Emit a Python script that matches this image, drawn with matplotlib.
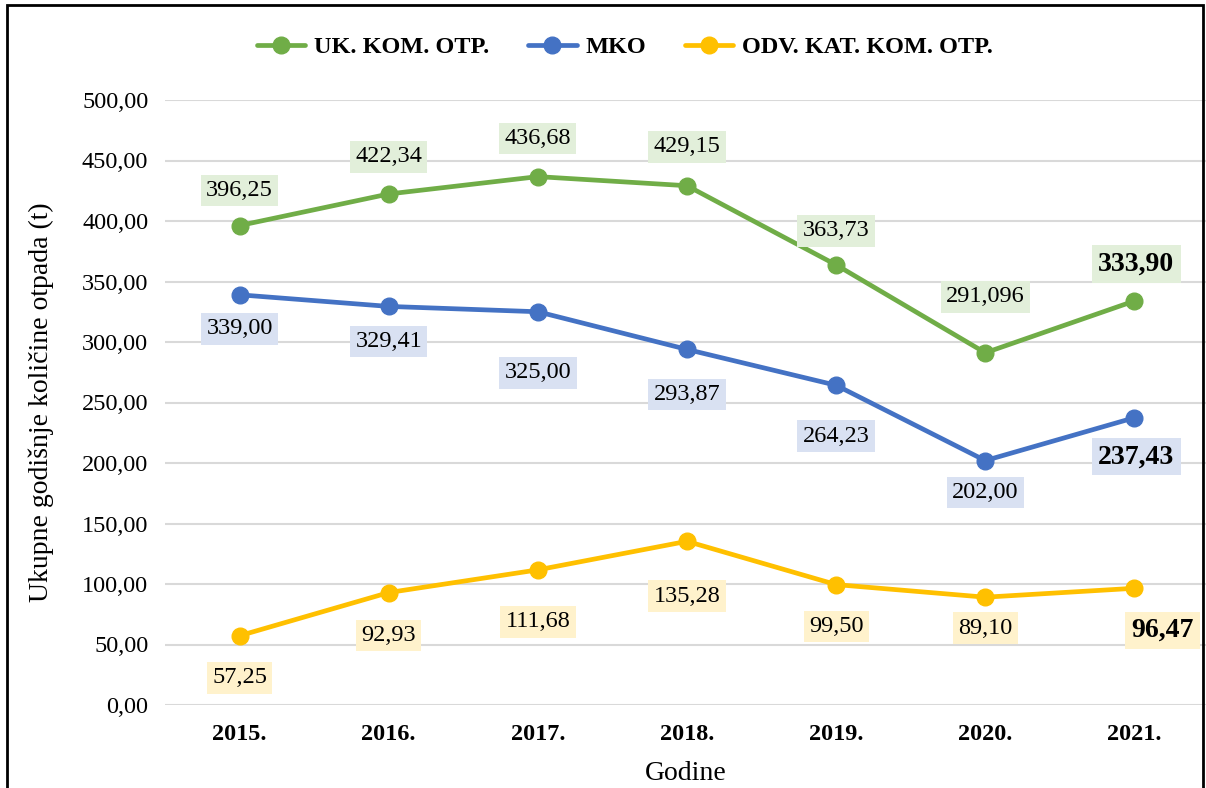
import numpy as np
import matplotlib.pyplot as plt
from matplotlib.patches import Rectangle

godine = ['2015.', '2016.', '2017.', '2018.', '2019.', '2020.', '2021.']
uk_kom = [396.25, 422.34, 436.68, 429.15, 363.73, 291.096, 333.90]
mko = [339.00, 329.41, 325.00, 293.87, 264.23, 202.00, 237.43]
odv_kat = [57.25, 92.93, 111.68, 135.28, 99.50, 89.10, 96.47]

serije = [
    ('UK. KOM. OTP.', uk_kom, '#70AD47', '#E2EFDA'),
    ('MKO', mko, '#4472C4', '#D9E1F2'),
    ('ODV. KAT. KOM. OTP.', odv_kat, '#FFC000', '#FFF2CC'),
]

# pomaci oznaka u pikselima (dx, dy)
pomaci = [
    [(0, 35), (0, 37), (0, 38), (0, 39), (0, 34), (0, 56), (2, 37)],
    [(0, -34), (0, -35), (0, -61), (0, -45), (0, -51), (0, -32), (2, -39)],
    [(0, -42), (0, -43), (0, -52), (0, -55), (0, -42), (0, -31), (28, -42)],
]


def fmt(v):
    s = f"{v:.2f}" if abs(round(v, 2) - v) < 1e-9 else f"{v:.3f}"
    return s.replace('.', ',')


plt.rcParams['font.family'] = 'Liberation Serif'

fig = plt.figure(figsize=(12.06, 7.88), dpi=100)
ax = fig.add_axes([165 / 1206, 83 / 788, 1 - 165 / 1206, 605 / 788])

x = np.arange(len(godine))
for si, (ime, vals, boja, pozadina) in enumerate(serije):
    ax.plot(x, vals, color=boja, lw=3.4, marker='o', markersize=12,
            label=ime, zorder=3, solid_capstyle='round')
    for i, v in enumerate(vals):
        zadnji = i == len(vals) - 1
        dx, dy = pomaci[si][i]
        ax.annotate(fmt(v), (x[i], v), xytext=(dx, dy),
                    textcoords='offset pixels', ha='center', va='center',
                    fontsize=20 if zadnji else 17.5,
                    fontweight='bold' if zadnji else 'normal',
                    bbox=dict(boxstyle='square,pad=0.22', fc=pozadina, ec='none'),
                    zorder=4)

ax.set_ylim(0, 500)
ax.set_xlim(-0.5, 6.48)
ax.set_yticks(np.arange(0, 501, 50))
ax.set_yticklabels([f"{t:.2f}".replace('.', ',') for t in np.arange(0, 501, 50)],
                   fontsize=17.5)
ax.set_xticks(x)
ax.set_xticklabels(godine, fontsize=17.5, fontweight='bold')
ax.tick_params(axis='both', length=0)
ax.tick_params(axis='y', pad=12)
ax.tick_params(axis='x', pad=14)
ax.grid(axis='y', color='#D9D9D9', lw=1.5)
ax.set_axisbelow(True)
for s in ax.spines.values():
    s.set_visible(False)

ax.set_ylabel('Ukupne godišnje količine otpada (t)', fontsize=20)
ax.yaxis.set_label_coords(-0.107, 0.5)
ax.set_xlabel('Godine', fontsize=20)
ax.xaxis.set_label_coords(0.5, -0.092)

fig.legend(loc='center', bbox_to_anchor=(0.518, 0.940), ncol=3, frameon=False,
           prop={'weight': 'bold', 'size': 17.5}, handlelength=2.0,
           columnspacing=1.6, handletextpad=0.35)

fig.patches.append(Rectangle((7 / 1206, -0.01), 1196 / 1206, 1.01 - 5 / 788,
                             transform=fig.transFigure, fill=False,
                             ec='black', lw=2))

fig.savefig('out.png', dpi=100)
